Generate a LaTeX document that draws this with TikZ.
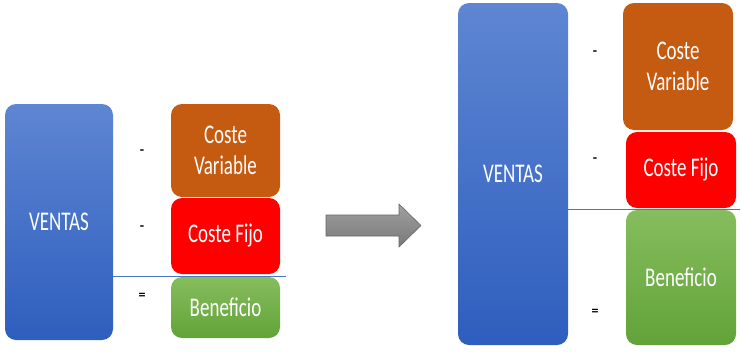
\documentclass[tikz,border=0pt]{standalone}
\usepackage{fontspec}
\setmainfont{Carlito}
\newcommand\talltxt[1]{\scalebox{0.95}[1.35]{#1}}
\definecolor{bluetop}{HTML}{5E86D2}
\definecolor{bluebot}{HTML}{2E5EBE}
\definecolor{cvcol}{HTML}{C55A11}
\definecolor{cfcol}{HTML}{FF0000}
\definecolor{gtop}{HTML}{86BD5E}
\definecolor{gbot}{HTML}{62A338}
\definecolor{sepline}{HTML}{4A76C6}
\tikzset{
  boxbase/.style={rounded corners=11pt, inner sep=2pt, align=center, text=white,
    font=\fontsize{20}{31}\selectfont},
  ventas/.style={boxbase, top color=bluetop, bottom color=bluebot},
  cvbox/.style={boxbase, fill=cvcol},
  cfbox/.style={boxbase, fill=cfcol},
  benbox/.style={boxbase, top color=gtop, bottom color=gbot},
  sign/.style={font=\fontsize{14}{16}\selectfont\bfseries, text=black, inner sep=0pt},
  sepl/.style={draw=sepline, line width=0.9pt}
}
\begin{document}
\begin{tikzpicture}[x=1pt,y=-1pt]
\useasboundingbox (0,0) rectangle (741,351);
% left diagram
\node[ventas, minimum width=108pt, minimum height=236pt] (ventasL) at (59,222) {\talltxt{VENTAS}};
\node[cvbox, minimum width=109pt, minimum height=93pt] (cvL) at (225.5,150.5) {\talltxt{Coste}\\\talltxt{Variable}};
\node[cfbox, minimum width=109pt, minimum height=76pt] (cfL) at (225.5,236) {\talltxt{Coste Fijo}};
\node[benbox, minimum width=109pt, minimum height=61pt] (benL) at (225.5,307.5) {\talltxt{Beneficio}};
\coordinate (lineLend) at (286,276);
\draw[sepl] (ventasL.east |- lineLend) -- (lineLend);
\node[sign] (m1L) at (142,152) {-};
\node[sign] (m2L) at (142,228) {-};
\node[sign] (eqL) at (142,296) {=};
% arrow
\path[top color=gray!75, bottom color=gray!95!black, draw=black!60, line width=0.6pt]
  (326,215) -- (399,215) -- (399,204) -- (421,225.5) -- (399,247) -- (399,236) -- (326,236) -- cycle;
% right diagram
\node[ventas, minimum width=110pt, minimum height=342pt] (ventasR) at (513,174) {\talltxt{VENTAS}};
\node[cvbox, minimum width=110pt, minimum height=127pt] (cvR) at (678,66.5) {\talltxt{Coste}\\\talltxt{Variable}};
\node[cfbox, minimum width=110pt, minimum height=76pt] (cfR) at (681,170) {\talltxt{Coste Fijo}};
\node[benbox, minimum width=110pt, minimum height=135pt] (benR) at (681,277.5) {\talltxt{Beneficio}};
\coordinate (lineRend) at (740,209);
\draw[sepl] (ventasR.east |- lineRend) -- (lineRend);
\node[sign] (m1R) at (595,53) {-};
\node[sign] (m2R) at (595,160) {-};
\node[sign] (eqR) at (595,312) {=};
\end{tikzpicture}
\end{document}
